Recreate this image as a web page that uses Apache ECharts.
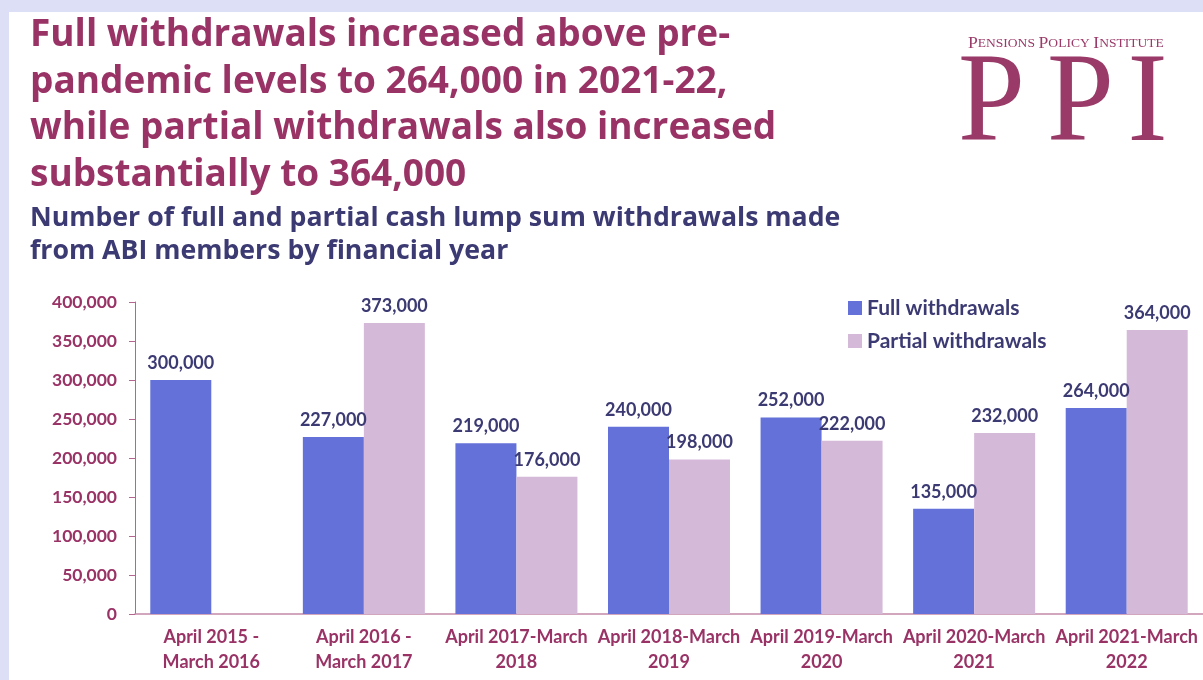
<!DOCTYPE html>
<html>
<head>
<meta charset="utf-8">
<script src="https://cdn.jsdelivr.net/npm/echarts@6/dist/echarts.min.js"></script>
<style>
  html, body { margin: 0; padding: 0; background: #dcdff6; }
  #chart { width: 1203px; height: 680px; }
</style>
</head>
<body>
<div id="chart"></div>
<script>
// data
var years = [
  'April 2015 -\nMarch 2016',
  'April 2016 -\nMarch 2017',
  'April 2017-March\n2018',
  'April 2018-March\n2019',
  'April 2019-March\n2020',
  'April 2020-March\n2021',
  'April 2021-March\n2022'
]
var fullWithdrawals = [300000, 227000, 219000, 240000, 252000, 135000, 264000]
var partialWithdrawals = [null, 373000, 176000, 198000, 222000, 232000, 364000]
var yTicks = [0, 50000, 100000, 150000, 200000, 250000, 300000, 350000, 400000]

var pink = '#993366'
var navy = '#3c3a72'
var logo = '#993a68'
var font = 'Lato'
var headFont = 'Open Sans'

function fmt (v) {
  return String(v).replace(/\B(?=(\d{3})+(?!\d))/g, ',')
}

function bigLetter (ch, x) {
  return {
    type: 'text',
    x: x,
    y: 42,
    scaleX: 0.94,
    style: { text: ch, font: '128px "Liberation Serif"', fill: logo }
  }
}

var myChart = echarts.init(document.getElementById('chart'))
var option = {
  backgroundColor: '#dcdff6',
  textStyle: { fontFamily: font },
  title: [
    {
      text: 'Full withdrawals increased above pre-\npandemic levels to 264,000 in 2021-22,\nwhile partial withdrawals also increased\nsubstantially to 364,000',
      left: 30,
      top: 12,
      padding: 0,
      textStyle: { fontFamily: headFont, fontSize: 37, fontWeight: 'bold', color: pink, lineHeight: 46.7 }
    },
    {
      text: 'Number of full and partial cash lump sum withdrawals made\nfrom ABI members by financial year',
      left: 30,
      top: 202,
      padding: 0,
      textStyle: { fontFamily: headFont, fontSize: 26.7, fontWeight: 'bold', color: navy, lineHeight: 33 }
    }
  ],
  graphic: [
    {
      type: 'rect',
      z: -10,
      shape: { x: 9, y: 12, width: 1194, height: 668 },
      style: { fill: '#ffffff' }
    },
    {
      type: 'text',
      x: 968,
      y: 36,
      scaleX: 1.1,
      style: {
        text: '{a|P}{b|ENSIONS} {a|P}{b|OLICY} {a|I}{b|NSTITUTE}',
        rich: {
          a: { fontFamily: 'Liberation Serif', fontSize: 16, fill: logo },
          b: { fontFamily: 'Liberation Serif', fontSize: 12.3, fill: logo }
        }
      }
    },
    bigLetter('P', 958),
    bigLetter('P', 1047),
    bigLetter('I', 1127.5)
  ],
  legend: {
    orient: 'vertical',
    left: 848,
    top: 297,
    padding: 0,
    itemWidth: 14,
    itemHeight: 14,
    itemGap: 11,
    icon: 'rect',
    textStyle: { fontFamily: font, fontSize: 21, fontWeight: 'bold', color: navy, lineHeight: 22 },
    data: ['Full withdrawals', 'Partial withdrawals']
  },
  grid: {
    left: 135,
    top: 302,
    width: 1071,
    height: 312
  },
  xAxis: {
    type: 'category',
    data: years,
    axisLine: { lineStyle: { color: '#c48aa8', width: 1.5 } },
    axisTick: { show: false },
    axisLabel: {
      interval: 0,
      margin: 11,
      fontFamily: font,
      fontSize: 18,
      fontWeight: 'bold',
      color: pink,
      lineHeight: 25
    }
  },
  yAxis: {
    type: 'value',
    min: yTicks[0],
    max: yTicks[yTicks.length - 1],
    interval: yTicks[1] - yTicks[0],
    splitLine: { show: false },
    axisLine: { show: true, lineStyle: { color: '#b3668e' } },
    axisTick: { show: true, length: 6, lineStyle: { color: '#b3668e' } },
    axisLabel: {
      margin: 18,
      fontFamily: font,
      fontSize: 17.5,
      fontWeight: 'bold',
      color: pink,
      formatter: function (v) { return fmt(v) }
    }
  },
  series: [
    {
      name: 'Full withdrawals',
      type: 'bar',
      barWidth: 61,
      barGap: '0%',
      itemStyle: { color: '#6371d8' },
      label: {
        show: true,
        position: 'top',
        distance: 8,
        fontFamily: font,
        fontSize: 18,
        fontWeight: 'bold',
        color: navy,
        formatter: function (p) { return fmt(p.value) }
      },
      data: fullWithdrawals
    },
    {
      name: 'Partial withdrawals',
      type: 'bar',
      barWidth: 61,
      barGap: '0%',
      itemStyle: { color: '#d5b9d9' },
      label: {
        show: true,
        position: 'top',
        distance: 8,
        fontFamily: font,
        fontSize: 18,
        fontWeight: 'bold',
        color: navy,
        formatter: function (p) { return fmt(p.value) }
      },
      data: partialWithdrawals
    }
  ]
}
myChart.setOption(option)
</script>
</body>
</html>
